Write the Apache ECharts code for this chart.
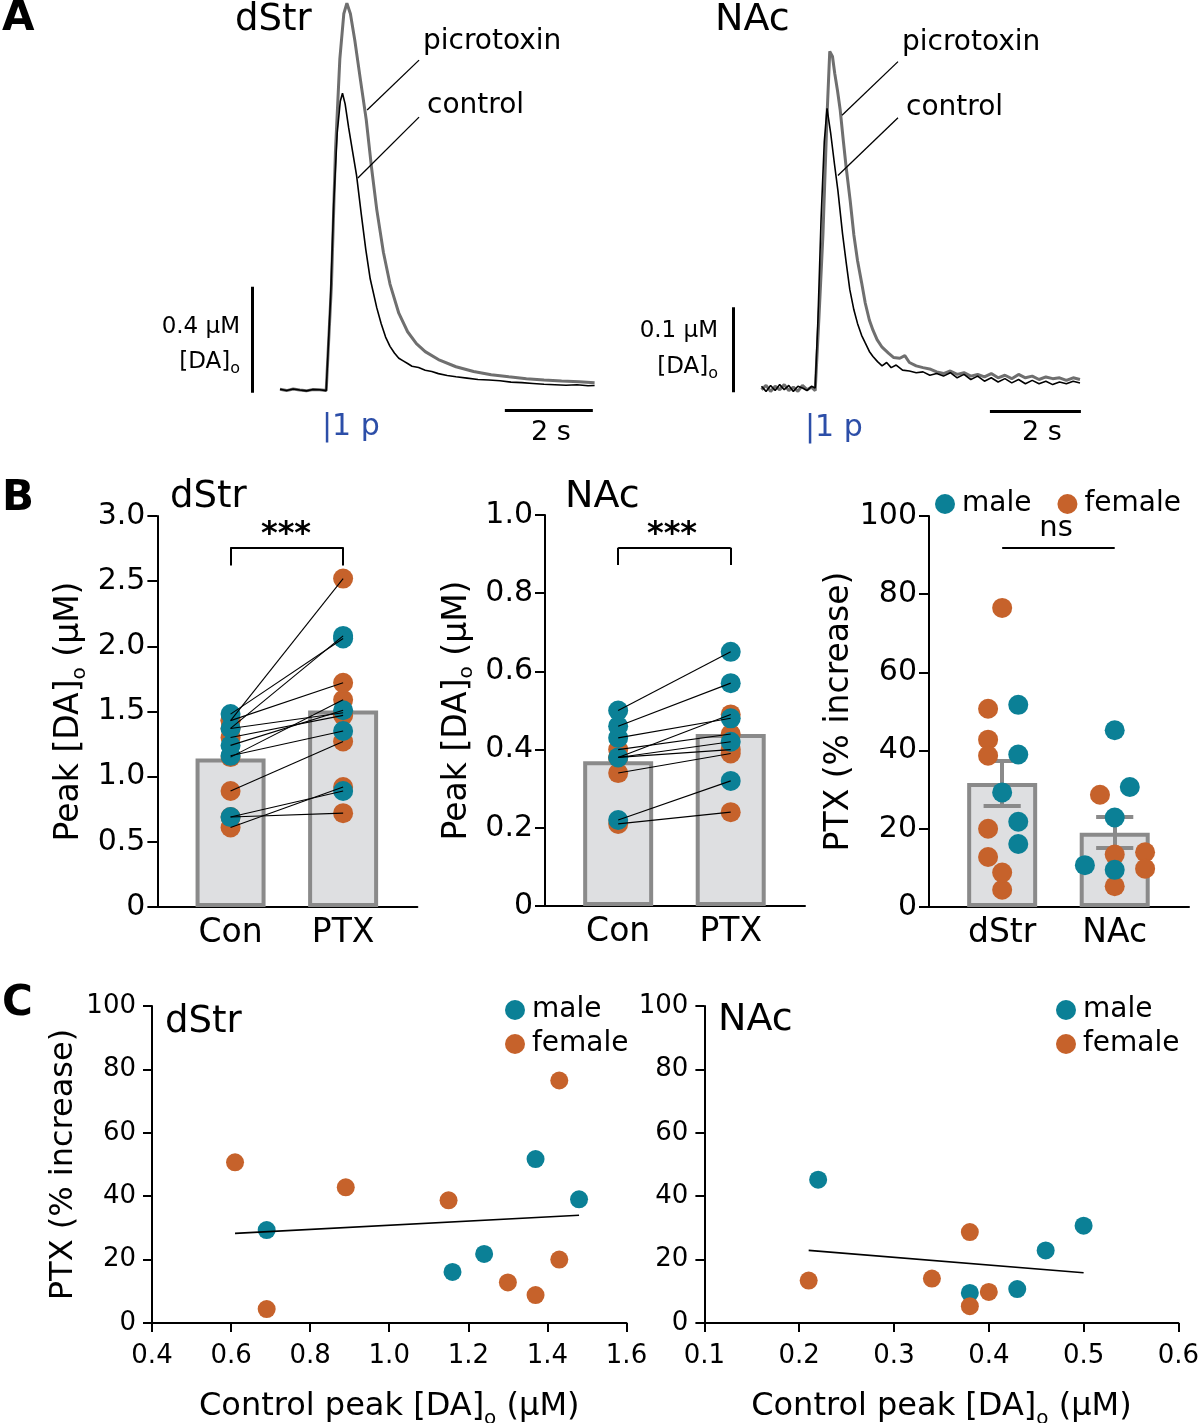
<!DOCTYPE html>
<html>
<head>
<meta charset="utf-8">
<script src="https://cdn.jsdelivr.net/npm/echarts@6/dist/echarts.min.js"></script>
<style>
  html, body { margin: 0; padding: 0; background: #fff; }
  #main { width: 1200px; height: 1423px; }
</style>
</head>
<body>
<div id="main"></div>
<script>
// ---- panel A : example traces (time in s, [DA]o in uM) ----
var dstrCtrlT = [0, 0.15, 0.3, 0.45, 0.6, 0.75, 0.9, 1.05, 1.09, 1.15, 1.22, 1.30, 1.37, 1.42, 1.48, 1.56, 1.65, 1.74, 1.85, 1.95, 2.05, 2.2, 2.3, 2.4, 2.5, 2.6, 2.7, 2.8, 2.9, 3.0, 3.15, 3.3, 3.45, 3.6, 3.8, 4.0, 4.25, 4.5, 4.75, 5.0, 5.25, 5.5, 5.75, 6.0, 6.25, 6.5, 6.75, 7.0, 7.15];
var dstrCtrlV = [0.003, -0.002, 0.004, 0.0, -0.003, 0.002, 0.001, -0.002, 0.0, 0.35, 0.7, 0.97, 1.09, 1.12, 1.08, 0.99, 0.9, 0.81, 0.66, 0.53, 0.42, 0.31, 0.25, 0.2, 0.165, 0.14, 0.12, 0.11, 0.1, 0.09, 0.085, 0.075, 0.07, 0.062, 0.055, 0.05, 0.045, 0.04, 0.038, 0.035, 0.03, 0.028, 0.025, 0.022, 0.02, 0.018, 0.02, 0.016, 0.017];
var dstrPtxT = [0, 0.15, 0.3, 0.45, 0.6, 0.75, 0.9, 1.05, 1.09, 1.17, 1.26, 1.36, 1.45, 1.52, 1.60, 1.70, 1.82, 1.96, 2.08, 2.2, 2.35, 2.5, 2.7, 2.9, 3.1, 3.3, 3.6, 4.0, 4.4, 4.8, 5.2, 5.6, 6.0, 6.4, 6.8, 7.15];
var dstrPtxV = [0.003, -0.002, 0.004, 0.0, -0.003, 0.002, 0.001, -0.002, 0.0, 0.4, 0.9, 1.25, 1.42, 1.46, 1.42, 1.32, 1.18, 1.02, 0.84, 0.68, 0.52, 0.4, 0.29, 0.22, 0.175, 0.145, 0.115, 0.088, 0.07, 0.058, 0.05, 0.043, 0.038, 0.034, 0.031, 0.028];

var nacCtrlT = [0, 0.1, 0.2, 0.3, 0.4, 0.5, 0.6, 0.7, 0.8, 0.9, 1.0, 1.1, 1.18, 1.24, 1.31, 1.38, 1.44, 1.52, 1.6, 1.68, 1.78, 1.86, 1.94, 2.03, 2.11, 2.2, 2.28, 2.37, 2.45, 2.55, 2.65, 2.75, 2.85, 2.96, 3.1, 3.25, 3.4, 3.55, 3.7, 3.85, 4.0, 4.15, 4.3, 4.45, 4.6, 4.75, 4.9, 5.05, 5.2, 5.35, 5.5, 5.65, 5.8, 5.95, 6.1, 6.25, 6.4, 6.55, 6.7, 6.85, 7.0];
var nacCtrlV = [0.002, -0.004, 0.003, -0.003, 0.004, -0.002, 0.003, -0.004, 0.002, 0.0, -0.003, 0.002, 0.0, 0.08, 0.2, 0.29, 0.329, 0.30, 0.265, 0.232, 0.182, 0.148, 0.116, 0.092, 0.076, 0.062, 0.053, 0.043, 0.037, 0.031, 0.026, 0.030, 0.024, 0.027, 0.021, 0.020, 0.018, 0.019, 0.015, 0.017, 0.014, 0.018, 0.012, 0.016, 0.010, 0.014, 0.008, 0.012, 0.007, 0.011, 0.006, 0.010, 0.005, 0.009, 0.005, 0.008, 0.004, 0.007, 0.005, 0.008, 0.006];
var nacPtxT = [0, 0.1, 0.2, 0.3, 0.4, 0.5, 0.6, 0.7, 0.8, 0.9, 1.0, 1.1, 1.18, 1.26, 1.35, 1.44, 1.50, 1.56, 1.61, 1.67, 1.73, 1.8, 1.86, 1.95, 2.03, 2.11, 2.2, 2.28, 2.37, 2.45, 2.54, 2.65, 2.79, 2.9, 3.04, 3.15, 3.25, 3.4, 3.55, 3.72, 3.85, 4.0, 4.15, 4.3, 4.45, 4.6, 4.75, 4.9, 5.05, 5.2, 5.35, 5.5, 5.65, 5.8, 5.95, 6.1, 6.25, 6.4, 6.55, 6.7, 6.85, 7.0];
var nacPtxV = [-0.002, 0.003, -0.004, 0.002, -0.002, 0.004, -0.003, 0.001, -0.004, 0.003, -0.002, 0.001, -0.003, 0.08, 0.18, 0.32, 0.396, 0.39, 0.37, 0.35, 0.327, 0.29, 0.26, 0.22, 0.18, 0.15, 0.124, 0.10, 0.08, 0.068, 0.057, 0.048, 0.041, 0.036, 0.035, 0.038, 0.03, 0.026, 0.024, 0.022, 0.019, 0.017, 0.020, 0.016, 0.018, 0.014, 0.016, 0.013, 0.017, 0.012, 0.015, 0.011, 0.016, 0.012, 0.014, 0.010, 0.013, 0.011, 0.012, 0.009, 0.012, 0.010];

// scale bars and label leaders, in trace units [s, uM]
var dstrBarV = [[-0.64, -0.01], [-0.64, 0.39]];
var dstrBarT = [[5.11, -0.075], [7.11, -0.075]];
var dstrLeadPtx = [[1.98, 1.057], [3.16, 1.245]];
var dstrLeadCtrl = [[1.77, 0.80], [3.16, 1.03]];
var nacBarV = [[-0.63, -0.005], [-0.63, 0.095]];
var nacBarT = [[5.02, -0.027], [7.02, -0.027]];
var nacLeadPtx = [[1.77, 0.321], [3.0, 0.384]];
var nacLeadCtrl = [[1.68, 0.25], [3.0, 0.318]];

// ---- panels B and C : per-slice values ----
var groups = ['Con', 'PTX'];
var regions = ['dStr', 'NAc'];
var dstrCon = [0.61, 0.69, 0.69, 0.89, 1.15, 1.16, 1.24, 1.30, 1.37, 1.37, 1.43, 1.43, 1.48];
var dstrPtx = [0.92, 0.89, 0.72, 1.27, 1.59, 1.35, 1.51, 1.47, 2.08, 1.49, 2.52, 1.72, 2.06];
var dstrPct = [50.7, 29.3, 4.4, 42.8, 38.7, 16.1, 21.8, 12.8, 51.7, 8.8, 76.5, 20.0, 39.0];
var dstrSex = ['F', 'M', 'F', 'F', 'F', 'M', 'M', 'F', 'M', 'F', 'F', 'F', 'M'];
var dstrJit = [-0.125, 0, 0, -0.125, -0.125, 0.143, 0.143, -0.125, 0.143, 0, 0, -0.125, 0.143];

var nacCon = [0.22, 0.21, 0.34, 0.38, 0.38, 0.38, 0.40, 0.43, 0.46, 0.50];
var nacPtx = [0.32, 0.24, 0.39, 0.49, 0.42, 0.40, 0.44, 0.48, 0.57, 0.65];
var nacPct = [45.2, 13.4, 14.0, 28.7, 9.5, 5.3, 9.8, 10.7, 22.9, 30.7];
var nacSex = ['M', 'F', 'F', 'F', 'M', 'F', 'F', 'M', 'M', 'M'];
var nacJit = [0, 0, 0.27, -0.131, 0, 0, 0.27, -0.265, 0, 0.134];

var FONT = 'DejaVu Sans';
var TEAL = '#0b8096', ORANGE = '#c6622b';
var BARFILL = '#dedfe1', BAREDGE = '#8a8a8a';

function zip(a, b) { return a.map(function (v, i) { return [v, b[i]]; }); }
function mean(a) { return a.reduce(function (s, v) { return s + v; }, 0) / a.length; }
function sem(a) {
  var m = mean(a);
  var ss = a.reduce(function (s, v) { return s + (v - m) * (v - m); }, 0);
  return Math.sqrt(ss / (a.length - 1)) / Math.sqrt(a.length);
}
function fitLine(xs, ys) {
  var mx = mean(xs), my = mean(ys), sxy = 0, sxx = 0;
  for (var i = 0; i < xs.length; i++) { sxy += (xs[i] - mx) * (ys[i] - my); sxx += (xs[i] - mx) * (xs[i] - mx); }
  var b = sxy / sxx, a = my - b * mx;
  var lo = Math.min.apply(null, xs), hi = Math.max.apply(null, xs);
  return [[lo, a + b * lo], [hi, a + b * hi]];
}
function pick(sexArr, sex, fn) {
  var out = [];
  sexArr.forEach(function (s, i) { if (s === sex) out.push(fn(i)); });
  return out;
}

var chart = echarts.init(document.getElementById('main'));

// axis helpers
function hidden(min, max, idx) { return { type: 'value', gridIndex: idx, min: min, max: max, show: false }; }
function catX(idx) {
  return {
    type: 'value', gridIndex: idx, min: 0.35, max: 2.66,
    splitLine: { show: false }, axisTick: { show: false },
    axisLine: { onZero: false, lineStyle: { color: '#000', width: 2 } },
    axisLabel: { customValues: [1, 2], margin: 10, fontSize: 33, fontFamily: FONT, color: '#000',
      formatter: function (v) { return (idx === 4 ? regions : groups)[Math.round(v) - 1]; } }
  };
}
function valY(idx, max, step, dec, name, gap) {
  return {
    type: 'value', gridIndex: idx, min: 0, max: max, interval: step,
    splitLine: { show: false },
    axisLine: { show: true, onZero: false, lineStyle: { color: '#000', width: 2 } },
    axisTick: { show: true, length: 10, lineStyle: { color: '#000', width: 2 } },
    axisLabel: { margin: 12, fontSize: 30, fontFamily: FONT, color: '#000',
      formatter: function (v) { return v === 0 ? '0' : v.toFixed(dec); } },
    name: name, nameLocation: 'middle', nameGap: gap, nameRotate: 90,
    nameTextStyle: { fontSize: 33, fontFamily: FONT, color: '#000',
      rich: { sub: { fontSize: 20, fontFamily: FONT, color: '#000', verticalAlign: 'bottom', lineHeight: 40 } } }
  };
}
function scatX(idx, min, max, step, name) {
  return {
    type: 'value', gridIndex: idx, min: min, max: max, interval: step,
    splitLine: { show: false },
    axisLine: { onZero: false, lineStyle: { color: '#000', width: 2 } },
    axisTick: { show: true, length: 9, lineStyle: { color: '#000', width: 2 } },
    axisLabel: { margin: 20, fontSize: 26, fontFamily: FONT, color: '#000',
      formatter: function (v) { return v.toFixed(1); } },
    name: name, nameLocation: 'middle', nameGap: 62,
    nameTextStyle: { fontSize: 32, fontFamily: FONT, color: '#000',
      rich: { sub: { fontSize: 20, fontFamily: FONT, color: '#000', verticalAlign: 'bottom', lineHeight: 44 } } }
  };
}
function scatY(idx, name) {
  return {
    type: 'value', gridIndex: idx, min: 0, max: 100, interval: 20,
    splitLine: { show: false },
    axisLine: { show: true, onZero: false, lineStyle: { color: '#000', width: 2 } },
    axisTick: { show: true, length: 9, lineStyle: { color: '#000', width: 2 } },
    axisLabel: { margin: 16, fontSize: 26, fontFamily: FONT, color: '#000' },
    name: name, nameLocation: 'middle', nameGap: 72, nameRotate: 90,
    nameTextStyle: { fontSize: 32, fontFamily: FONT, color: '#000' }
  };
}

function seg(list, idx, width, color) {
  return { type: 'lines', coordinateSystem: 'cartesian2d', xAxisIndex: idx, yAxisIndex: idx, silent: true,
    data: list.map(function (c) { return { coords: c }; }),
    lineStyle: { color: color || '#000', width: width, opacity: 1, curveness: 0 }, z: 6 };
}
function trace(idx, t, v, color, width, z) {
  return { type: 'line', xAxisIndex: idx, yAxisIndex: idx, data: zip(t, v), symbol: 'none', silent: true,
    lineStyle: { color: color, width: width }, z: z };
}
function dots(idx, name, data, size) {
  return { type: 'scatter', name: name, xAxisIndex: idx, yAxisIndex: idx, data: data, symbolSize: size,
    itemStyle: { color: name === 'male' ? TEAL : ORANGE, opacity: 1 }, z: 4 };
}
function bars(idx, vals) {
  return { type: 'bar', xAxisIndex: idx, yAxisIndex: idx, barWidth: 70, silent: true,
    data: [[1, vals[0]], [2, vals[1]]],
    itemStyle: { color: BARFILL, borderColor: BAREDGE, borderWidth: 4 }, z: 1 };
}
function pairs(con, ptx) { return con.map(function (c, i) { return [[1, c], [2, ptx[i]]]; }); }
function errBars(list) {
  var out = [];
  list.forEach(function (a, k) {
    var x = k + 1, m = mean(a), s = sem(a), w = 0.165;
    out.push([[x, m - s], [x, m + s]]);
    out.push([[x - w, m + s], [x + w, m + s]]);
    out.push([[x - w, m - s], [x + w, m - s]]);
  });
  return out;
}

var series = [
  // A dStr
  trace(0, dstrPtxT, dstrPtxV, '#6f6f6f', 3, 2),
  trace(0, dstrCtrlT, dstrCtrlV, '#000', 1.6, 3),
  seg([dstrLeadPtx, dstrLeadCtrl], 0, 1.3),
  seg([dstrBarV, dstrBarT], 0, 3),
  // A NAc
  trace(1, nacPtxT, nacPtxV, '#6f6f6f', 3, 2),
  trace(1, nacCtrlT, nacCtrlV, '#000', 1.6, 3),
  seg([nacLeadPtx, nacLeadCtrl], 1, 1.3),
  seg([nacBarV, nacBarT], 1, 3),
  // B dStr
  bars(2, [mean(dstrCon), mean(dstrPtx)]),
  dots(2, 'female', pick(dstrSex, 'F', function (i) { return [1, dstrCon[i]]; }).concat(pick(dstrSex, 'F', function (i) { return [2, dstrPtx[i]]; })), 20),
  dots(2, 'male', pick(dstrSex, 'M', function (i) { return [1, dstrCon[i]]; }).concat(pick(dstrSex, 'M', function (i) { return [2, dstrPtx[i]]; })), 20),
  seg(pairs(dstrCon, dstrPtx), 2, 1.1),
  seg([[[1, 2.62], [1, 2.76]], [[1, 2.76], [2, 2.76]], [[2, 2.76], [2, 2.62]]], 2, 2),
  // B NAc
  bars(3, [mean(nacCon), mean(nacPtx)]),
  dots(3, 'female', pick(nacSex, 'F', function (i) { return [1, nacCon[i]]; }).concat(pick(nacSex, 'F', function (i) { return [2, nacPtx[i]]; })), 20),
  dots(3, 'male', pick(nacSex, 'M', function (i) { return [1, nacCon[i]]; }).concat(pick(nacSex, 'M', function (i) { return [2, nacPtx[i]]; })), 20),
  seg(pairs(nacCon, nacPtx), 3, 1.1),
  seg([[[1, 0.872], [1, 0.916]], [[1, 0.916], [2, 0.916]], [[2, 0.916], [2, 0.872]]], 3, 2),
  // B % increase
  bars(4, [mean(dstrPct), mean(nacPct)]),
  Object.assign(seg(errBars([dstrPct, nacPct]), 4, 4, BAREDGE), { z: 3 }),
  dots(4, 'female', pick(dstrSex, 'F', function (i) { return [1 + dstrJit[i], dstrPct[i]]; }).concat(pick(nacSex, 'F', function (i) { return [2 + nacJit[i], nacPct[i]]; })), 20),
  dots(4, 'male', pick(dstrSex, 'M', function (i) { return [1 + dstrJit[i], dstrPct[i]]; }).concat(pick(nacSex, 'M', function (i) { return [2 + nacJit[i], nacPct[i]]; })), 20),
  seg([[[1, 91.8], [2, 91.8]]], 4, 2),
  // C dStr
  dots(5, 'male', pick(dstrSex, 'M', function (i) { return [dstrCon[i], dstrPct[i]]; }), 18),
  dots(5, 'female', pick(dstrSex, 'F', function (i) { return [dstrCon[i], dstrPct[i]]; }), 18),
  seg([fitLine(dstrCon, dstrPct)], 5, 1.6),
  // C NAc
  dots(6, 'male', pick(nacSex, 'M', function (i) { return [nacCon[i], nacPct[i]]; }), 18),
  dots(6, 'female', pick(nacSex, 'F', function (i) { return [nacCon[i], nacPct[i]]; }), 18),
  seg([fitLine(nacCon, nacPct)], 6, 1.6)
];

function txt(x, y, s, size, extra) {
  return { type: 'text', x: x, y: y, silent: true, z: 100,
    style: Object.assign({ text: s, fontSize: size, fontFamily: FONT, fill: '#000', align: 'left', verticalAlign: 'middle' }, extra || {}) };
}
var subRich = { sub: { fontSize: 16, fontFamily: FONT, fill: '#000', verticalAlign: 'bottom', lineHeight: 30 } };

var graphics = [
  txt(2, 19, 'A', 42, { fontWeight: 'bold' }),
  txt(2, 499, 'B', 42, { fontWeight: 'bold' }),
  txt(2, 1004, 'C', 42, { fontWeight: 'bold' }),
  txt(235, 20, 'dStr', 37),
  txt(715, 20, 'NAc', 38),
  txt(423, 42, 'picrotoxin', 28),
  txt(427, 106, 'control', 28),
  txt(902, 43, 'picrotoxin', 28),
  txt(906, 108, 'control', 28),
  txt(240, 327, '0.4 µM', 23, { align: 'right' }),
  txt(240, 362, '[DA]{sub|o}', 23, { align: 'right', rich: subRich }),
  txt(718, 331, '0.1 µM', 23, { align: 'right' }),
  txt(718, 367, '[DA]{sub|o}', 23, { align: 'right', rich: subRich }),
  txt(551, 433, '2 s', 27, { align: 'center' }),
  txt(1042, 433, '2 s', 27, { align: 'center' }),
  txt(322, 427, '|1 p', 30, { fill: '#2c4ea8' }),
  txt(805, 428, '|1 p', 30, { fill: '#2c4ea8' }),
  txt(170, 497, 'dStr', 37),
  txt(565, 497, 'NAc', 38),
  txt(286, 535, '***', 32, { align: 'center', fontWeight: 'bold' }),
  txt(672, 535, '***', 32, { align: 'center', fontWeight: 'bold' }),
  txt(1056, 528, 'ns', 29, { align: 'center' }),
  txt(165, 1022, 'dStr', 37),
  txt(718, 1020, 'NAc', 38)
];

function legend(left, top, orient) {
  return { data: ['male', 'female'], left: left, top: top, orient: orient, icon: 'circle',
    itemWidth: 20, itemHeight: 20, itemGap: orient === 'vertical' ? 6 : 26, selectedMode: false,
    textStyle: { fontSize: 28, fontFamily: FONT, color: '#000', padding: [0, 0, 0, 2] } };
}

var option = {
  animation: false,
  backgroundColor: '#fff',
  grid: [
    { left: 244.8, top: 0, width: 352, height: 456.3, outerBoundsMode: 'none' },
    { left: 725.1, top: 0, width: 364, height: 447.5, outerBoundsMode: 'none' },
    { left: 157.4, top: 516, width: 260, height: 391, outerBoundsMode: 'none' },
    { left: 545, top: 515, width: 260, height: 391, outerBoundsMode: 'none' },
    { left: 929, top: 516, width: 260, height: 391, outerBoundsMode: 'none' },
    { left: 152, top: 1006, width: 474.5, height: 317, outerBoundsMode: 'none' },
    { left: 704.4, top: 1006, width: 474, height: 317, outerBoundsMode: 'none' }
  ],
  xAxis: [
    hidden(-0.8, 7.2, 0), hidden(-0.8, 7.2, 1),
    catX(2), catX(3), catX(4),
    scatX(5, 0.4, 1.6, 0.2, 'Control peak [DA]{sub|o} (µM)'),
    scatX(6, 0.1, 0.6, 0.1, 'Control peak [DA]{sub|o} (µM)')
  ],
  yAxis: [
    hidden(-0.25, 1.472, 0), hidden(-0.07, 0.4565, 1),
    valY(2, 3, 0.5, 1, 'Peak [DA]{sub|o} (µM)', 68),
    valY(3, 1, 0.2, 1, 'Peak [DA]{sub|o} (µM)', 68),
    valY(4, 100, 20, 0, 'PTX (% increase)', 70),
    scatY(5, 'PTX (% increase)'),
    scatY(6, '')
  ],
  legend: [legend(930, 485, 'horizontal'), legend(500, 991, 'vertical'), legend(1051, 991, 'vertical')],
  graphic: graphics,
  series: series
};

chart.setOption(option);
</script>
</body>
</html>
